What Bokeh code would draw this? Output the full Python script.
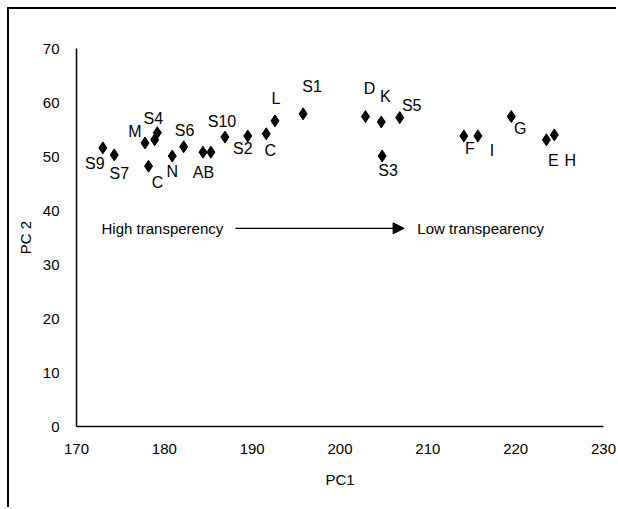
from bokeh.plotting import figure
from bokeh.models import ColumnDataSource, Range1d, FixedTicker, Arrow, NormalHead, Label, InlineStyleSheet
from bokeh.core.properties import value
from bokeh.embed import file_html
from bokeh.resources import INLINE

# ---- data ----
names = ["S9", "S7", "M", "S4", "S8", "C", "N", "S6", "A", "B", "S10", "S2", "C2", "L",
         "S1", "D", "K", "S5", "S3", "F", "I", "G", "E", "H"]
labels = ["S9", "S7", "M", "S4", "", "C", "N", "S6", "A", "B", "S10", "S2", "C", "L",
          "S1", "D", "K", "S5", "S3", "F", "I", "G", "E", "H"]
pc1 = [173.0, 174.3, 177.8, 179.2, 178.9, 178.2, 180.9, 182.2, 184.4, 185.3, 186.9, 189.5, 191.6, 192.6,
       195.8, 202.9, 204.7, 206.8, 204.8, 214.1, 215.7, 219.5, 223.5, 224.4]
pc2 = [51.6, 50.3, 52.5, 54.4, 53.1, 48.2, 50.1, 51.8, 50.8, 50.8, 53.6, 53.8, 54.2, 56.6,
       57.9, 57.4, 56.4, 57.2, 50.1, 53.8, 53.8, 57.4, 53.1, 54.0]
x_ticks = [170, 180, 190, 200, 210, 220, 230]
y_ticks = [0, 10, 20, 30, 40, 50, 60, 70]
x_title = "PC1"
y_title = "PC 2"
left_note = "High transperency"
right_note = "Low transpearency"

# ---- label placement (pixels, relative to each point; positive = down) ----
lab_dx = [-8, 5, -10, -4, 0, 9, 0, 1, -5, -2, -3, -5, 4, 1,
          9, 4, 4, 12, 6, 6, 14, 9, 7, 16]
lab_dy = [16, 19, -12, -14, 0, 16, 16, -16, 20, 20, -16, 13, 17, -22,
          -27, -28, -25, -12, 15, 13, 15, 12, 21, 26]

src = ColumnDataSource(dict(x=pc1, y=pc2, lab=labels, dx=lab_dx, dy=lab_dy))

FONT = "Liberation Sans"

p = figure(width=609, height=500, output_backend="svg", toolbar_location=None,
           x_range=Range1d(170, 230), y_range=Range1d(0, 70),
           min_border_left=67, min_border_right=15, min_border_top=39, min_border_bottom=83,
           margin=(7, 0, 0, 7))
p.stylesheets = [InlineStyleSheet(css=":host { border-left: 2px solid black !important; "
                                      "border-top: 2px solid black !important; }")]
p.outline_line_color = None
p.grid.visible = False
p.background_fill_color = "white"
p.border_fill_color = "white"

p.xaxis.ticker = FixedTicker(ticks=x_ticks)
p.yaxis.ticker = FixedTicker(ticks=y_ticks)
for ax in (p.xaxis[0], p.yaxis[0]):
    ax.major_tick_line_color = None
    ax.minor_tick_line_color = None
    ax.axis_line_color = "black"
    ax.axis_line_width = 1.5
    ax.major_label_text_font = FONT
    ax.major_label_text_font_size = "15px"
    ax.major_label_text_color = "black"
    ax.axis_label_text_font = FONT
    ax.axis_label_text_font_size = "15px"
    ax.axis_label_text_font_style = "normal"
    ax.axis_label_text_color = "black"
    ax.major_label_standoff = 11
p.xaxis.axis_label = x_title
p.yaxis.axis_label = y_title
p.xaxis.axis_label_standoff = 14
p.yaxis.axis_label_standoff = 6

p.scatter("x", "y", source=src, marker="diamond", size=12, color="black")
p.text("x", "y", text="lab", source=src, x_offset="dx", y_offset="dy",
       text_font=value(FONT), text_font_size="16px", text_color="black",
       text_align="center", text_baseline="middle")

arrow_y = 36.7
p.add_layout(Arrow(x_start=188.1, y_start=arrow_y, x_end=207.3, y_end=arrow_y,
                   line_color="black", line_width=1.2,
                   end=NormalHead(size=11, fill_color="black", line_color="black")))
p.add_layout(Label(x=172.85, y=arrow_y, text=left_note, text_font=FONT, text_font_size="15px",
                   text_baseline="middle", text_align="left", text_color="black"))
p.add_layout(Label(x=208.8, y=arrow_y, text=right_note, text_font=FONT, text_font_size="15px",
                   text_baseline="middle", text_align="left", text_color="black"))

open("out.html", "w").write(file_html(p, INLINE))
